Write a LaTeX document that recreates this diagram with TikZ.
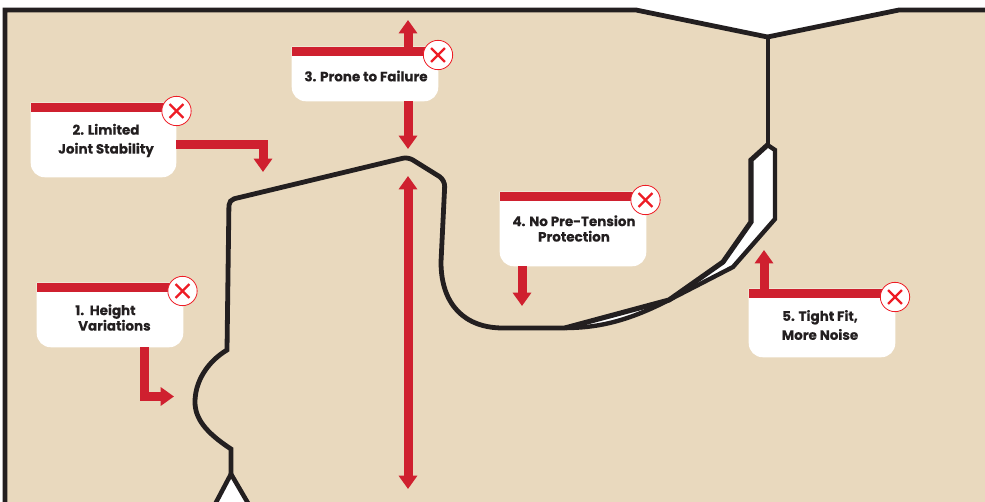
\documentclass[tikz,border=0pt]{standalone}
\usepackage{fontspec}
\setmainfont[BoldFont={Poppins Bold},BoldFeatures={FakeBold=0.25}]{Poppins}
\usetikzlibrary{arrows.meta,fit}
\definecolor{tan}{HTML}{E9D9BE}
\definecolor{ink}{HTML}{231F20}
\definecolor{barred}{HTML}{CF202F}
\definecolor{xred}{HTML}{EE1C25}
\tikzset{
  outline/.style={draw=ink,line width=3.6pt,line join=miter},
  redarrow/.style={draw=barred,line width=6.75pt,line join=miter,
    -{Triangle[length=10pt,width=13.5pt]}},
  twoway/.style={draw=barred,line width=6.75pt,
    {Triangle[length=10pt,width=13.5pt]}-{Triangle[length=10pt,width=13.5pt]}},
  cardtext/.style={font=\fontsize{10.1pt}{12pt}\selectfont\bfseries,text=ink,inner sep=0pt,align=center},
  badge/.style={circle,fill=white,draw=xred,line width=0.6pt,minimum size=22pt,inner sep=0pt},
  crossline/.style={draw=xred,line width=1.7pt},
}
\newcommand{\card}[5]{%
  \node[fit={(#2,#3)(#4,#5)},inner sep=0pt] (#1) {};
  \fill[white] (#1.north west) -- (#1.north east) [rounded corners=10.5pt] -- (#1.south east) -- (#1.south west) [sharp corners] -- cycle;
  \fill[barred] (#1.north west) rectangle ([yshift=-6.75pt]#1.north east);
}
\newcommand{\xbadge}[3]{%
  \node[badge] (#1) at (#2,#3) {};
  \draw[crossline] ([shift={(-5.2pt,5.2pt)}]#1.center) -- ([shift={(5.2pt,-5.2pt)}]#1.center);
  \draw[crossline] ([shift={(-5.2pt,-5.2pt)}]#1.center) -- ([shift={(5.2pt,5.2pt)}]#1.center);
}
\begin{document}
\begin{tikzpicture}[x=0.75pt,y=-0.75pt]
\useasboundingbox (0,0) rectangle (985,502);
\clip (0,0) rectangle (985,502);
\fill[white] (0,0) rectangle (985,502);
% housing
\fill[tan] (5,510) -- (5,10) -- (636,10) -- (767.5,37) -- (899,10) -- (995,10) -- (995,510) -- cycle;
\draw[outline] (5,510) -- (5,10) -- (636,10) -- (767.5,37) -- (899,10) -- (995,10);
\draw[outline,line width=3pt] (767.5,37) -- (767.5,145);
% seal insert
\path[fill=white] (767.5,145) -- (775,150) -- (775,219) -- (733,267) -- (669,300)
  .. controls (630,320) and (600,328) .. (565,328) -- (669,300) -- (723,262) -- (751,222) -- (751,160) -- cycle;
\draw[outline,line width=3.3pt] (767.5,145) -- (775,150) -- (775,219) -- (733,267) -- (669,300)
  .. controls (630,320) and (600,328) .. (565,328);
\draw[outline,line width=3.8pt] (767.5,145) -- (751,160) -- (751,222) -- (723,262) -- (669,300) -- (565,328);
% profile
\draw[outline] (231,474) -- (231,449) .. controls (205,432) and (195,418) .. (195,402)
  .. controls (195,382) and (207,362) .. (227,350)
  [rounded corners=4pt] -- (229,200) -- (408,157) [rounded corners=5pt] -- (445,180) [sharp corners] -- (441,262)
  .. controls (441,305) and (465,328) .. (503,328) -- (565,328);
\fill[white,draw=ink,line width=3.4pt] (231,474) -- (212,510) -- (252,510) -- cycle;
% cards
\card{b1}{37}{283}{183}{347}
\card{b2}{31}{103}{176}{177}
\card{b3}{292}{47}{438}{101}
\card{b4}{500}{192}{646}{266}
\card{b5}{749}{289}{895}{357}
% free ends of the arrows
\coordinate (t1) at (174,396.5);
\coordinate (t2) at (263,172);
\coordinate (t3a) at (408,20);
\coordinate (t3b) at (408,149);
\coordinate (t4) at (522,306);
\coordinate (t5) at (764,250);
\coordinate (g1) at (408,176);
\coordinate (g2) at (408,489);
\coordinate (e1) at (144.5,396.5);
% connectors
\draw[redarrow] (b1.south -| e1) -- (e1) -- (t1);
\draw[redarrow] (b2.east |- 0,144.5) -| (t2);
\draw[redarrow] (b3.north -| t3a) -- (t3a);
\draw[redarrow] (b3.south -| t3b) -- (t3b);
\draw[twoway] (g1) -- (g2);
\draw[redarrow] (b4.south -| t4) -- (t4);
\draw[redarrow] (b5.north -| t5) -- (t5);
% card texts
\node[cardtext,align=left,anchor=west] (l1) at (75,317.5) {1.\ \ Height\\[-0.4pt]\hspace*{2.2pt}Variations};
\node[cardtext] (l2) at (106,140.5) {2. Limited\\[2.2pt]Joint Stability};
\node[cardtext] (l3) at (366,76) {3. Prone to Failure};
\node[cardtext] (l4) at (574,228.5) {4. No Pre-Tension\\[-0.4pt]Protection};
\node[cardtext] (l5) at (820,325) {5. Tight Fit,\\[2.2pt]More Noise};
% badges
\xbadge{x1}{182.5}{291}
\xbadge{x2}{176.5}{111}
\xbadge{x3}{438}{55}
\xbadge{x4}{645.5}{200}
\xbadge{x5}{895}{297}
\end{tikzpicture}
\end{document}
